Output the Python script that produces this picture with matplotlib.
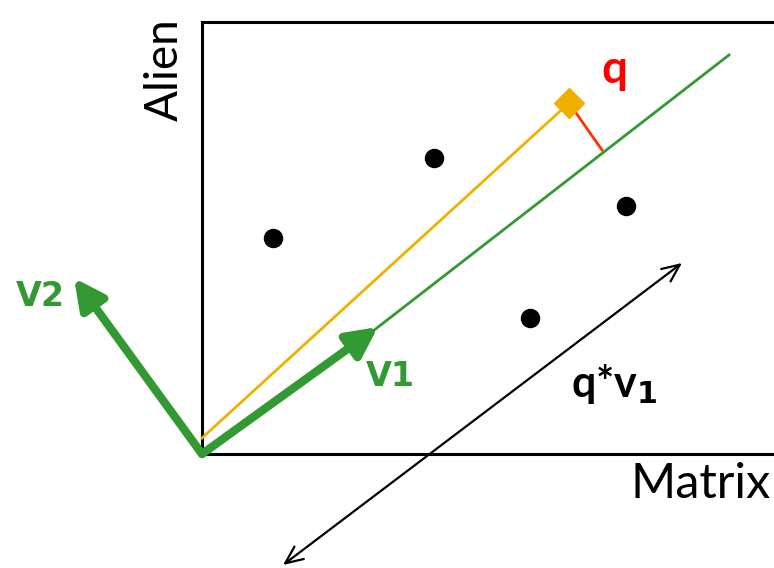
import matplotlib
matplotlib.use("Agg")
import matplotlib.pyplot as plt

# diagram coords: origin at lower-left corner of the box, units ~ pixels
box_w, box_h = 580, 432
dots_x = [71, 232, 424, 328]
dots_y = [216, 296, 248, 136]
v1_tip = (176, 127)
v2_tip = (-128, 176)
v1_line_end = (527, 399)
q_point = (367, 351)
q_foot = (400, 304)
orange_start = (0, 16)
span_a = (81, -111)
span_b = (480, 191)

green = '#339933'
orange = '#F0B000'

fig = plt.figure(figsize=(7.74, 5.68), dpi=100)
ax = fig.add_axes([0, 0, 1, 1])
ax.set_xlim(-202, 572)
ax.set_ylim(-114, 454)
ax.axis('off')

# box
ax.plot([box_w, 0, 0, box_w], [box_h, box_h, 0, 0], color='black', lw=2.2,
        solid_joinstyle='miter', zorder=1)

# axis words
ax.text(569, -30, 'Matrix', fontsize=35, family='Lato', ha='right', va='center')
ax.text(-37, 384, 'Alien', fontsize=33, family='Lato', rotation=90,
        ha='center', va='center')

# thin v1 line and orange vector
ax.plot([v1_tip[0] - 5, v1_line_end[0]], [v1_tip[1] - 4, v1_line_end[1]], color=green, lw=2, zorder=2)
ax.plot([orange_start[0], q_point[0]], [orange_start[1], q_point[1]], color=orange, lw=2, zorder=2)
ax.plot([q_point[0], q_foot[0]], [q_point[1], q_foot[1]], color='#FF3300', lw=2, zorder=2)
ax.plot(q_point[0], q_point[1], marker='D', ms=15, color=orange, zorder=4)

# data points
ax.plot(dots_x, dots_y, 'o', color='black', ms=13, zorder=3)

# basis vectors
for tip in (v1_tip, v2_tip):
    ax.annotate('', xy=tip, xytext=(0, 0),
                arrowprops=dict(arrowstyle='-|>,head_length=0.9,head_width=0.45',
                                lw=6, color=green, shrinkA=0, shrinkB=0,
                                mutation_scale=20), zorder=5)

# double arrow
ax.annotate('', xy=span_a, xytext=span_b,
            arrowprops=dict(arrowstyle='<->,head_length=0.9,head_width=0.4',
                            lw=1.6, color='black', shrinkA=0, shrinkB=0,
                            mutation_scale=14))

ax.text(-162, 157, 'V2', fontsize=24, fontweight='bold', color=green,
        family='DejaVu Sans', ha='center', va='center')
ax.text(188, 78, 'V1', fontsize=24, fontweight='bold', color=green,
        family='DejaVu Sans', ha='center', va='center')
ax.text(412, 384, 'q', fontsize=33, fontweight='bold', color='red',
        family='Lato', ha='center', va='center')
ax.text(412, 70, r'q*v$_\mathbf{1}$', fontsize=31, fontweight='bold', color='black',
        family='Lato', ha='center', va='center')

fig.savefig('out.png', dpi=100)
